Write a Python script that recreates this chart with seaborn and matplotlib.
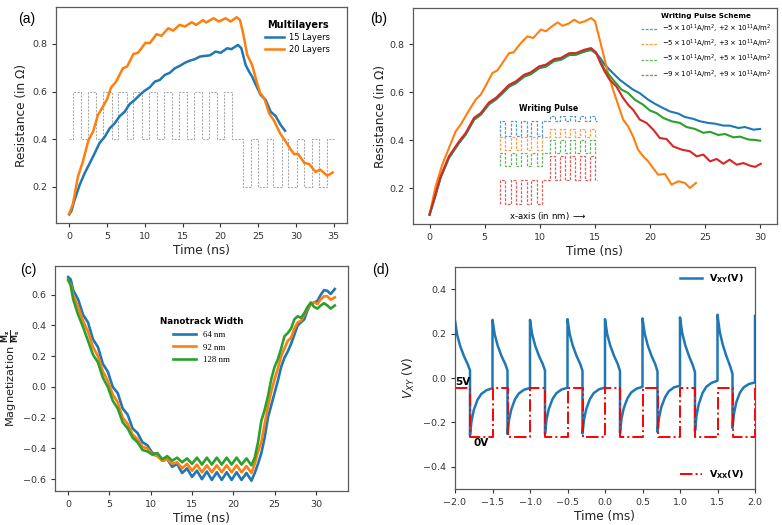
import matplotlib
matplotlib.use("Agg")
import matplotlib.pyplot as plt
import seaborn as sns

# ---------------- (a) data ----------------
a15_t = [0.0, 0.3, 0.7, 1.37, 2.03, 2.7, 3.36, 4.02, 4.69, 5.35, 6.01, 6.68, 7.34, 8.0, 8.66, 9.33, 9.99,
         10.65, 11.32, 11.98, 12.64, 13.31, 13.97, 14.63, 15.3, 15.96, 16.62, 17.28, 17.95, 18.6, 19.36,
         20.03, 20.91, 21.44, 22.33, 22.77, 23.34, 23.79, 24.2, 24.8, 25.33, 25.99, 26.65, 27.32, 27.98, 28.55]
a15_v = [0.085, 0.10, 0.145, 0.208, 0.257, 0.299, 0.341, 0.385, 0.41, 0.446, 0.467, 0.497, 0.516, 0.548,
         0.565, 0.586, 0.604, 0.618, 0.642, 0.649, 0.670, 0.679, 0.698, 0.708, 0.721, 0.730, 0.736, 0.747,
         0.750, 0.752, 0.768, 0.763, 0.782, 0.778, 0.796, 0.782, 0.712, 0.684, 0.663, 0.621, 0.586, 0.565,
         0.516, 0.497, 0.460, 0.436]
a20_t = [0.0, 0.5, 1.15, 1.8, 2.55, 3.15, 3.8, 4.45, 5.0, 5.55, 6.2, 7.1, 7.65, 8.5, 9.1, 10.1, 10.65,
         11.55, 12.2, 13.1, 13.75, 14.6, 15.3, 16.2, 16.8, 17.7, 18.1, 19.1, 19.8, 20.7, 21.35, 22.15, 22.6,
         23.0, 23.55, 24.2, 24.8, 25.25, 25.8, 26.45, 27.1, 27.9, 28.65, 29.2, 29.75, 30.3, 31.1, 31.75,
         32.6, 33.2, 34.15, 34.85]
a20_v = [0.088, 0.13, 0.243, 0.306, 0.397, 0.432, 0.502, 0.537, 0.568, 0.618, 0.642, 0.698, 0.705, 0.758,
         0.763, 0.805, 0.803, 0.841, 0.834, 0.866, 0.856, 0.88, 0.873, 0.891, 0.88, 0.90, 0.89, 0.908, 0.894,
         0.908, 0.894, 0.912, 0.90, 0.845, 0.754, 0.712, 0.642, 0.595, 0.572, 0.509, 0.478, 0.425, 0.39,
         0.362, 0.338, 0.338, 0.301, 0.296, 0.263, 0.273, 0.247, 0.261]
a_pulse_t = [0, 0.5, 1.6, 2.5, 3.6, 4.5, 5.6, 6.5, 7.6, 8.5, 9.6, 10.5, 11.6, 12.5, 13.6, 14.5, 15.6,
             16.5, 17.6, 18.5, 19.6, 20.5, 21.6, 23.0, 24.1, 25.0, 26.1, 27.0, 28.1, 29.0, 30.1, 31.0,
             32.1, 33.0, 34.1, 35.0]
a_pulse_v = [0.4, 0.6, 0.4, 0.6, 0.4, 0.6, 0.4, 0.6, 0.4, 0.6, 0.4, 0.6, 0.4, 0.6, 0.4, 0.6, 0.4,
             0.6, 0.4, 0.6, 0.4, 0.6, 0.4, 0.2, 0.4, 0.2, 0.4, 0.2, 0.4, 0.2, 0.4, 0.2,
             0.4, 0.2, 0.4, 0.4]
a_labels = ["15 Layers", "20 Layers"]

# ---------------- (b) data ----------------
b_or_t = [0.0, 0.55, 1.15, 1.76, 2.37, 2.82, 3.43, 4.18, 4.64, 5.09, 5.7, 6.15, 6.61, 7.21, 7.61, 8.28,
          8.88, 9.4, 10.09, 10.55, 11.0, 11.61, 12.06, 12.6, 13.12, 13.58, 14.1, 14.64, 15.0, 15.43, 15.73,
          16.18, 16.63, 17.1, 17.55, 18.0, 18.45, 18.9, 19.37, 19.82, 20.27, 20.73, 21.33, 21.94, 22.55,
          23.15, 23.6, 24.15]
b_or_v = [0.089, 0.207, 0.297, 0.367, 0.436, 0.464, 0.512, 0.568, 0.589, 0.626, 0.679, 0.69, 0.721, 0.762,
          0.765, 0.804, 0.832, 0.825, 0.86, 0.853, 0.87, 0.89, 0.876, 0.885, 0.901, 0.888, 0.895, 0.908,
          0.895, 0.818, 0.763, 0.679, 0.61, 0.547, 0.485, 0.457, 0.415, 0.36, 0.332, 0.311, 0.283, 0.255,
          0.259, 0.214, 0.228, 0.221, 0.2, 0.221]
b_red_t = [0.0, 0.4, 1.0, 1.76, 2.67, 3.27, 4.03, 4.64, 5.4, 6.0, 6.61, 7.21, 7.82, 8.58, 9.18, 9.94,
           10.55, 11.3, 11.91, 12.67, 13.27, 14.03, 14.64, 15.1, 15.5, 15.88, 16.33, 16.94, 17.55, 18.0,
           18.45, 19.06, 19.67, 20.28, 20.88, 21.49, 22.09, 22.85, 23.61, 24.21, 24.82, 25.43, 26.03, 26.64,
           27.2, 27.85, 28.46, 29.06, 29.52, 30.03]
b_red_v = [0.089, 0.151, 0.248, 0.332, 0.394, 0.429, 0.492, 0.512, 0.557, 0.575, 0.602, 0.630, 0.644,
           0.672, 0.682, 0.707, 0.714, 0.737, 0.742, 0.762, 0.762, 0.776, 0.783, 0.765, 0.72, 0.685, 0.651,
           0.623, 0.575, 0.547, 0.526, 0.485, 0.471, 0.443, 0.408, 0.404, 0.373, 0.36, 0.353, 0.332, 0.339,
           0.311, 0.321, 0.301, 0.318, 0.297, 0.304, 0.293, 0.288, 0.301]
b_grn_t = [0.0, 0.4, 1.0, 1.76, 2.67, 3.27, 4.03, 4.64, 5.4, 6.0, 6.61, 7.21, 7.82, 8.58, 9.18, 9.94,
           10.55, 11.3, 11.91, 12.67, 13.27, 14.03, 14.64, 15.1, 15.5, 15.88, 16.64, 17.4, 18.0, 18.61,
           19.37, 19.97, 20.58, 21.18, 21.94, 22.7, 23.3, 24.06, 24.82, 25.43, 26.18, 26.79, 27.55, 28.15,
           28.91, 29.52, 29.97]
b_grn_v = [0.089, 0.149, 0.244, 0.327, 0.389, 0.424, 0.486, 0.507, 0.551, 0.57, 0.596, 0.624, 0.638,
           0.666, 0.676, 0.701, 0.708, 0.731, 0.736, 0.756, 0.757, 0.77, 0.777, 0.76, 0.728, 0.693, 0.651,
           0.61, 0.596, 0.568, 0.547, 0.523, 0.512, 0.492, 0.478, 0.471, 0.454, 0.446, 0.43, 0.434, 0.421,
           0.425, 0.411, 0.414, 0.402, 0.40, 0.397]
b_blu_t = [0.0, 0.4, 1.0, 1.76, 2.67, 3.27, 4.03, 4.64, 5.4, 6.0, 6.61, 7.21, 7.82, 8.58, 9.18, 9.94,
           10.55, 11.3, 11.91, 12.67, 13.27, 14.03, 14.64, 15.1, 15.5, 15.88, 16.49, 17.24, 17.85, 18.45,
           19.06, 19.82, 20.43, 21.18, 21.79, 22.55, 23.15, 23.91, 24.52, 25.27, 25.88, 26.64, 27.2, 28.0,
           28.6, 29.37, 29.97]
b_blu_v = [0.089, 0.148, 0.242, 0.325, 0.387, 0.422, 0.484, 0.505, 0.549, 0.568, 0.594, 0.622, 0.636,
           0.664, 0.674, 0.699, 0.706, 0.729, 0.734, 0.754, 0.755, 0.768, 0.775, 0.762, 0.74, 0.714, 0.685,
           0.651, 0.630, 0.61, 0.595, 0.568, 0.551, 0.533, 0.519, 0.51, 0.496, 0.488, 0.478, 0.471, 0.468,
           0.46, 0.46, 0.45, 0.454, 0.443, 0.446]
# writing-pulse sketch (edges in ns, levels per scheme)
pulse_edges = [6.40, 6.43, 6.88, 7.39, 7.85, 8.30, 8.79, 9.24, 9.76, 10.21, 10.91, 11.36, 11.82, 12.27,
               12.73, 13.18, 13.64, 14.09, 14.55, 15.00, 15.15]
pulse_pattern = ["low", "base", "low", "base", "low", "base", "low", "base", "low", "base", "high", "base",
                 "high", "base", "high", "base", "high", "base", "high", "base", "base"]
pulse_base = [0.478, 0.4125, 0.346, 0.235]
pulse_low = [0.418, 0.360, 0.290, 0.135]
pulse_high = [0.501, 0.446, 0.401, 0.332]
b_labels = [r"$-5\times10^{11}$A/m$^2$, $+2\times10^{11}$A/m$^2$",
            r"$-5\times10^{11}$A/m$^2$, $+3\times10^{11}$A/m$^2$",
            r"$-5\times10^{11}$A/m$^2$, $+5\times10^{11}$A/m$^2$",
            r"$-9\times10^{11}$A/m$^2$, $+9\times10^{11}$A/m$^2$"]

# ---------------- (c) data ----------------
c_t = [0.0, 0.3, 0.6, 1.2, 1.8, 2.4, 3.0, 3.6, 4.2, 4.8, 5.4, 6.0, 6.6, 7.2, 7.8, 8.4, 9.0, 9.6, 10.2,
       10.8, 11.4, 12.0, 12.6, 13.2, 13.8, 14.4, 15.0, 15.6, 16.2, 16.8, 17.4, 18.0, 18.6, 19.2, 19.8,
       20.4, 21.0, 21.6, 22.2, 22.6, 23.0, 23.4, 23.8, 24.2, 24.6, 25.0, 25.4, 25.8, 26.2, 26.6, 27.0,
       27.4, 27.8, 28.2, 28.6, 29.0, 29.4, 29.8, 30.2, 30.6, 31.0, 31.4, 31.8, 32.3]
c_64 = [0.715, 0.70, 0.63, 0.57, 0.47, 0.42, 0.31, 0.26, 0.15, 0.10, 0.00, -0.04, -0.14, -0.18, -0.27,
        -0.30, -0.36, -0.38, -0.43, -0.44, -0.48, -0.47, -0.52, -0.50, -0.56, -0.53, -0.585, -0.545, -0.60,
        -0.55, -0.605, -0.555, -0.605, -0.555, -0.605, -0.555, -0.605, -0.56, -0.61,
        -0.56, -0.50, -0.43, -0.33, -0.20, -0.12, -0.04, 0.04, 0.13, 0.19, 0.23, 0.28, 0.34, 0.40, 0.42,
        0.44, 0.50, 0.54, 0.55, 0.56, 0.60, 0.63, 0.625, 0.605, 0.637]
c_92 = [0.69, 0.67, 0.60, 0.52, 0.43, 0.36, 0.26, 0.20, 0.10, 0.04, -0.05, -0.10, -0.20, -0.24, -0.31,
        -0.34, -0.39, -0.40, -0.44, -0.45, -0.48, -0.47, -0.50, -0.49, -0.53, -0.50, -0.545, -0.505, -0.555,
        -0.51, -0.555, -0.51, -0.555, -0.51, -0.555, -0.51, -0.555, -0.515, -0.56,
        -0.50, -0.42, -0.36, -0.24, -0.13, -0.03, 0.05, 0.12, 0.20, 0.25, 0.30, 0.32, 0.38, 0.42, 0.43,
        0.47, 0.51, 0.54, 0.55, 0.54, 0.57, 0.59, 0.59, 0.568, 0.583]
c_128 = [0.70, 0.66, 0.57, 0.47, 0.39, 0.30, 0.21, 0.16, 0.06, 0.00, -0.09, -0.14, -0.23, -0.27, -0.33,
         -0.36, -0.41, -0.42, -0.44, -0.43, -0.47, -0.45, -0.48, -0.46, -0.49, -0.465, -0.50, -0.46, -0.505,
         -0.46, -0.505, -0.46, -0.505, -0.46, -0.505, -0.46, -0.505, -0.465, -0.51,
         -0.46, -0.36, -0.22, -0.15, -0.06, 0.05, 0.13, 0.18, 0.25, 0.33, 0.35, 0.38, 0.44, 0.46, 0.45,
         0.48, 0.52, 0.55, 0.52, 0.51, 0.53, 0.545, 0.53, 0.51, 0.53]
c_labels = ["64 nm", "92 nm", "128 nm"]

# ---------------- (d) data ----------------
vxy_t = [-2.00, -1.97, -1.93, -1.88, -1.83, -1.80,
         -1.80, -1.78, -1.75, -1.70, -1.65, -1.58, -1.50,
         -1.50, -1.47, -1.43, -1.38, -1.33, -1.30,
         -1.30, -1.28, -1.25, -1.20, -1.15, -1.08, -1.00,
         -1.00, -0.97, -0.93, -0.88, -0.83, -0.80,
         -0.80, -0.78, -0.75, -0.70, -0.65, -0.58, -0.50,
         -0.50, -0.47, -0.43, -0.38, -0.33, -0.30,
         -0.30, -0.28, -0.25, -0.20, -0.15, -0.08, 0.00,
         0.00, 0.03, 0.07, 0.12, 0.17, 0.20,
         0.20, 0.22, 0.25, 0.30, 0.35, 0.42, 0.50,
         0.50, 0.53, 0.57, 0.62, 0.67, 0.70,
         0.70, 0.72, 0.75, 0.80, 0.85, 0.92, 1.00,
         1.00, 1.03, 1.07, 1.12, 1.17, 1.20,
         1.20, 1.22, 1.25, 1.30, 1.35, 1.42, 1.50,
         1.50, 1.53, 1.57, 1.62, 1.67, 1.70,
         1.70, 1.72, 1.75, 1.80, 1.85, 1.92, 2.00,
         2.00]
vxy_v = [0.258, 0.192, 0.143, 0.098, 0.062, 0.034,
         -0.258, -0.195, -0.145, -0.098, -0.072, -0.055, -0.046,
         0.262, 0.195, 0.145, 0.099, 0.063, 0.034,
         -0.252, -0.190, -0.142, -0.096, -0.070, -0.053, -0.045,
         0.262, 0.195, 0.145, 0.099, 0.063, 0.033,
         -0.250, -0.188, -0.140, -0.095, -0.069, -0.052, -0.044,
         0.265, 0.197, 0.146, 0.100, 0.063, 0.032,
         -0.250, -0.188, -0.140, -0.094, -0.068, -0.051, -0.043,
         0.265, 0.197, 0.146, 0.100, 0.063, 0.031,
         -0.246, -0.184, -0.136, -0.091, -0.065, -0.048, -0.040,
         0.268, 0.199, 0.147, 0.100, 0.062, 0.029,
         -0.243, -0.180, -0.132, -0.087, -0.060, -0.042, -0.035,
         0.273, 0.202, 0.148, 0.099, 0.058, 0.026,
         -0.238, -0.170, -0.118, -0.068, -0.040, -0.022, -0.012,
         0.285, 0.208, 0.150, 0.097, 0.052, 0.018,
         -0.225, -0.160, -0.110, -0.065, -0.042, -0.027, -0.020,
         0.280]
vxx_t = [-2.0, -1.8, -1.5, -1.3, -1.0, -0.8, -0.5, -0.3, 0.0, 0.2, 0.5, 0.7, 1.0, 1.2, 1.5, 1.7, 2.0]
vxx_v = [-0.044, -0.268, -0.044, -0.268, -0.044, -0.268, -0.044, -0.268, -0.044, -0.268, -0.044, -0.268,
         -0.044, -0.268, -0.044, -0.268, -0.044]

# ---------------- style ----------------
BLUE, ORANGE, GREEN, RED = "#1f77b4", "#ff7f0e", "#2ca02c", "#d62728"
plt.rcParams.update({
    "font.family": ["DejaVu Sans"],
    "axes.edgecolor": "#5a5a5a",
    "axes.linewidth": 0.9,
    "xtick.color": "#333333",
    "ytick.color": "#333333",
    "xtick.labelsize": 6.8,
    "ytick.labelsize": 6.8,
    "axes.labelsize": 8.7,
    "axes.labelcolor": "#222222",
    "xtick.major.size": 3,
    "ytick.major.size": 3,
})

W, H = 782, 525
fig = plt.figure(figsize=(W / 100, H / 100), dpi=100)


def add_ax(left, right, top, bottom):
    return fig.add_axes([left / W, 1 - bottom / H, (right - left) / W, (bottom - top) / H])


def line(ax, x, y, **kw):
    sns.lineplot(x=x, y=y, ax=ax, sort=False, estimator=None, legend=False, **kw)
    return ax.lines[-1]


# ---------------- (a) ----------------
axa = add_ax(56, 347, 7, 223)
line(axa, a_pulse_t, a_pulse_v, color="#a8a8a8", lw=0.75, linestyle=(0, (2, 1.3)), drawstyle="steps-post")
h15 = line(axa, a15_t, a15_v, color=BLUE, lw=1.8)
h20 = line(axa, a20_t, a20_v, color=ORANGE, lw=1.8)
axa.set_xlim(-1.75, 36.75)
axa.set_ylim(0.049, 0.955)
axa.set_xticks([0, 5, 10, 15, 20, 25, 30, 35])
axa.set_yticks([0.2, 0.4, 0.6, 0.8])
axa.set_xlabel("Time (ns)", labelpad=2)
axa.set_ylabel("Resistance (in Ω)", labelpad=3)
axa.legend([h15, h20], a_labels, title="Multilayers", loc="upper center", bbox_to_anchor=(0.83, 0.975),
           frameon=False, fontsize=6.0, title_fontproperties={"weight": "bold", "size": 7.0},
           handlelength=2.3, labelspacing=0.35, handletextpad=0.6)

# ---------------- (b) ----------------
axb = add_ax(413, 777, 8, 224)
line(axb, b_blu_t, b_blu_v, color=BLUE, lw=1.5)
line(axb, b_or_t, b_or_v, color=ORANGE, lw=1.5)
line(axb, b_grn_t, b_grn_v, color=GREEN, lw=1.5)
line(axb, b_red_t, b_red_v, color=RED, lw=1.5)
pulse_handles = []
for i, col in enumerate([BLUE, ORANGE, GREEN, RED]):
    level_of = {"low": pulse_low[i], "base": pulse_base[i], "high": pulse_high[i]}
    lv = [level_of[p] for p in pulse_pattern]
    h = line(axb, pulse_edges, lv, color=col, lw=0.9, alpha=0.75, linestyle=(0, (2.2, 1.2)),
             drawstyle="steps-post")
    pulse_handles.append(h)
axb.text(10.8, 0.53, "Writing Pulse", fontsize=5.6, fontweight="bold", ha="center", va="center")
axb.text(10.75, 0.085, r"x-axis (in nm) $\longrightarrow$", fontsize=6.2, ha="center", va="center")
axb.set_xlim(-1.5, 31.5)
axb.set_ylim(0.05, 0.95)
axb.set_xticks([0, 5, 10, 15, 20, 25, 30])
axb.set_yticks([0.2, 0.4, 0.6, 0.8])
axb.set_xlabel("Time (ns)", labelpad=2)
axb.set_ylabel("Resistance (in Ω)", labelpad=1.5)
axb.legend(pulse_handles, b_labels, title="Writing Pulse Scheme", loc="upper center",
           bbox_to_anchor=(0.805, 1.005), frameon=False, fontsize=5.0,
           title_fontproperties={"weight": "bold", "size": 5.2}, handlelength=2.2,
           labelspacing=0.45, handletextpad=0.7)

# ---------------- (c) ----------------
axc = add_ax(55, 348, 266, 491)
hc1 = line(axc, c_t, c_64, color=BLUE, lw=1.9)
hc2 = line(axc, c_t, c_92, color=ORANGE, lw=1.9)
hc3 = line(axc, c_t, c_128, color=GREEN, lw=1.9)
axc.set_xlim(-1.6, 33.9)
axc.set_ylim(-0.677, 0.787)
axc.set_xticks([0, 5, 10, 15, 20, 25, 30])
axc.set_yticks([-0.6, -0.4, -0.2, 0.0, 0.2, 0.4, 0.6])
axc.set_xlabel("Time (ns)", labelpad=2)
axc.set_ylabel(r"Magnetization $\frac{\mathbf{M_z}}{\mathbf{M_s}}$", fontsize=8.2)
axc.yaxis.set_label_coords((24 - 55) / 293, 0.5)
axc.legend([hc1, hc2, hc3], c_labels, title="Nanotrack Width", loc="upper center",
           bbox_to_anchor=(0.5, 0.81), frameon=False,
           prop={"family": "Liberation Serif", "size": 6.3},
           title_fontproperties={"weight": "bold", "size": 6.3}, handlelength=2.6,
           labelspacing=0.55, handletextpad=0.8)

# ---------------- (d) ----------------
axd = add_ax(455, 755, 267, 489)
hxy = line(axd, vxy_t, vxy_v, color=BLUE, lw=1.8)
hxx = line(axd, vxx_t, vxx_v, color="red", lw=1.4, linestyle="-.", drawstyle="steps-post")
axd.set_xlim(-2, 2)
axd.set_ylim(-0.5, 0.5)
axd.set_xticks([-2.0, -1.5, -1.0, -0.5, 0.0, 0.5, 1.0, 1.5, 2.0])
axd.set_yticks([-0.4, -0.2, 0.0, 0.2, 0.4])
axd.set_xlabel("Time (ms)", labelpad=2)
axd.set_ylabel(r"$V_{XY}$ (V)")
axd.text(-2.0, -0.016, "5V", fontsize=7.5, fontweight="bold", ha="left", va="center")
axd.text(-1.75, -0.295, "0V", fontsize=7.5, fontweight="bold", ha="left", va="center")
leg1 = axd.legend([hxy], [r"$\mathbf{V_{XY}(V)}$"], loc="center", bbox_to_anchor=(0.857, 0.946),
                  frameon=False, fontsize=6.8, handlelength=2.3)
axd.add_artist(leg1)
axd.legend([hxx], [r"$\mathbf{V_{XX}(V)}$"], loc="center", bbox_to_anchor=(0.857, 0.063),
           frameon=False, fontsize=6.8, handlelength=2.3)

# panel labels
for lab, x, y in [("(a)", 18, 19), ("(b)", 370, 19), ("(c)", 20, 270), ("(d)", 372, 270)]:
    fig.text(x / W, 1 - y / H, lab, fontsize=10, family="Liberation Sans", ha="left", va="center")

fig.savefig("out.png", dpi=100)
